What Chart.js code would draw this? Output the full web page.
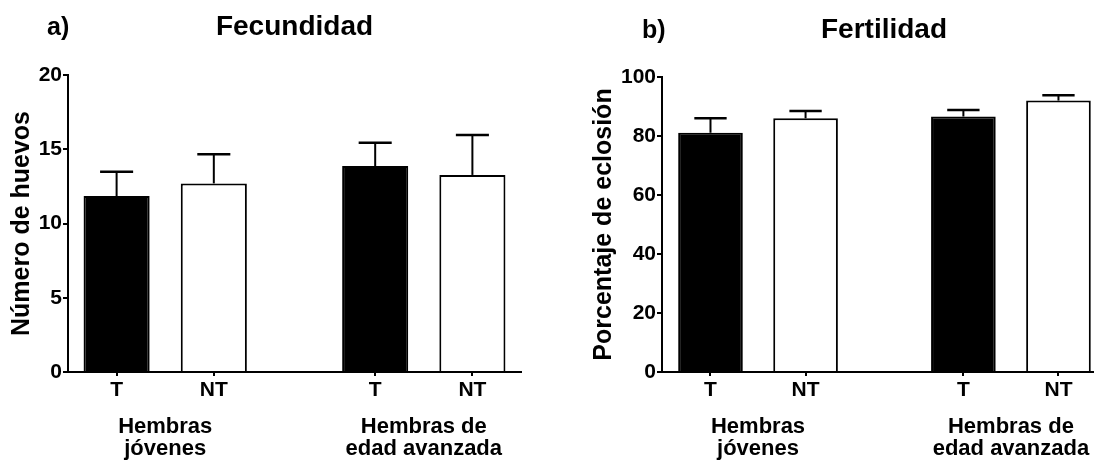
<!DOCTYPE html>
<html>
<head>
<meta charset="utf-8">
<script src="https://cdn.jsdelivr.net/npm/chart.js@4.4.1/dist/chart.umd.min.js"></script>
<style>
  html, body { margin: 0; padding: 0; background: #fff; overflow: hidden; }
  body { width: 1094px; height: 461px; position: relative; }
  #wrapA { position: absolute; left: 0; top: 0; width: 547px; height: 461px; }
  #wrapB { position: absolute; left: 547px; top: 0; width: 560px; height: 461px; }
</style>
</head>
<body>
<div id="wrapA"><canvas id="chartA" width="547" height="461"></canvas></div>
<div id="wrapB"><canvas id="chartB" width="560" height="461"></canvas></div>
<script>
  // ---------- data ----------
  const xPositions = [0, 1, 2.66, 3.66];
  const tickLabels = ["T", "NT", "T", "NT"];
  const barColors = ["#000000", "#ffffff", "#000000", "#ffffff"];
  const groupCenters = [0.5, 3.16];
  const groupLabels = [["Hembras", "jóvenes"], ["Hembras de", "edad avanzada"]];

  // a) Fecundidad
  const fecundidadMean = [11.85, 12.7, 13.87, 13.27];
  const fecundidadErr = [1.64, 1.96, 1.57, 2.69];
  const fecundidadTicks = [0, 5, 10, 15, 20];

  // b) Fertilidad
  const fertilidadMean = [81.1, 86.0, 86.6, 92.0];
  const fertilidadErr = [4.9, 2.5, 2.2, 1.8];
  const fertilidadTicks = [0, 20, 40, 60, 80, 100];

  const FONT = "'Liberation Sans', Arial, sans-serif";

  // error bars (upper only, mean + SEM) drawn through the scales
  const errorBars = {
    id: "errorBars",
    afterDatasetsDraw(chart, args, opts) {
      const { ctx } = chart;
      const x = chart.scales.x, y = chart.scales.y;
      const meta = chart.getDatasetMeta(0);
      const ds = chart.data.datasets[0];
      ctx.save();
      ctx.strokeStyle = "#000";
      ds.data.forEach((p, i) => {
        const px = x.getPixelForValue(p.x);
        const yBar = y.getPixelForValue(p.y);
        const yTop = y.getPixelForValue(p.y + opts.err[i]);
        const half = meta.data[i].width * 0.25;
        ctx.lineWidth = 2;
        ctx.beginPath();
        ctx.moveTo(px, yBar);
        ctx.lineTo(px, yTop);
        ctx.stroke();
        ctx.lineWidth = 2.5;
        ctx.beginPath();
        ctx.moveTo(px - half, yTop);
        ctx.lineTo(px + half, yTop);
        ctx.stroke();
      });
      ctx.restore();
    },
  };

  // panel letter, title and group captions
  const captions = {
    id: "captions",
    afterDraw(chart, args, opts) {
      const { ctx, chartArea } = chart;
      const x = chart.scales.x;
      ctx.save();
      ctx.fillStyle = "#000";
      ctx.textBaseline = "alphabetic";
      ctx.font = "bold 25px " + FONT;
      ctx.textAlign = "left";
      ctx.fillText(opts.letter, opts.letterX, opts.titleY);
      ctx.font = "bold 28px " + FONT;
      ctx.textAlign = "center";
      ctx.fillText(opts.title, (chartArea.left + chartArea.right) / 2, opts.titleY);
      ctx.font = "bold 22px " + FONT;
      groupCenters.forEach((g, i) => {
        const gx = x.getPixelForValue(g);
        groupLabels[i].forEach((line, j) => {
          ctx.fillText(line, gx, chartArea.bottom + 61 + j * 22);
        });
      });
      ctx.restore();
    },
  };

  function makeChart(id, cfg) {
    const points = xPositions.map((v, i) => ({ x: v, y: cfg.mean[i] }));
    return new Chart(document.getElementById(id), {
      type: "bar",
      data: {
        datasets: [
          {
            data: points,
            backgroundColor: barColors,
            borderColor: "#000",
            borderWidth: 2,
            barPercentage: 0.68,
            categoryPercentage: 1,
          },
        ],
      },
      options: {
        responsive: false,
        animation: false,
        layout: { padding: cfg.padding },
        plugins: {
          legend: { display: false },
          tooltip: { enabled: false },
          errorBars: { err: cfg.err },
          captions: { letter: cfg.letter, letterX: cfg.letterX, title: cfg.title, titleY: cfg.titleY },
        },
        scales: {
          x: {
            type: "linear",
            min: cfg.xMin,
            max: cfg.xMax,
            offset: false,
            afterBuildTicks: (s) => { s.ticks = xPositions.map((v) => ({ value: v })); },
            afterFit: (s) => { s.height = 89; },
            ticks: {
              autoSkip: false,
              maxRotation: 0,
              color: "#000",
              padding: 2,
              font: { family: FONT, size: 21, weight: "bold" },
              callback: (v, i) => tickLabels[i],
            },
            grid: { offset: false, drawOnChartArea: false, drawTicks: true, tickLength: 4, color: "#000", lineWidth: 2 },
            border: { display: true, color: "#000", width: 2 },
          },
          y: {
            min: 0,
            max: cfg.yTicks[cfg.yTicks.length - 1],
            afterBuildTicks: (s) => { s.ticks = cfg.yTicks.map((v) => ({ value: v })); },
            afterFit: (s) => { s.width = cfg.yWidth; },
            ticks: {
              color: "#000",
              padding: 1,
              font: { family: FONT, size: 21, weight: "bold" },
            },
            grid: { drawOnChartArea: false, drawTicks: true, tickLength: 5, color: "#000", lineWidth: 2 },
            border: { display: true, color: "#000", width: 2 },
            title: {
              display: true,
              text: cfg.yTitle,
              color: "#000",
              padding: { top: cfg.yTitlePad, bottom: 0 },
              font: { family: FONT, size: 25, weight: "bold" },
            },
          },
        },
      },
      plugins: [errorBars, captions],
    });
  }

  makeChart("chartA", {
    mean: fecundidadMean,
    err: fecundidadErr,
    yTicks: fecundidadTicks,
    yTitle: "Número de huevos",
    title: "Fecundidad",
    letter: "a)",
    letterX: 47,
    titleY: 35,
    xMin: -0.5,
    xMax: 4.16,
    yWidth: 68,
    yTitlePad: 7,
    padding: { left: 0, top: 75, right: 26, bottom: 0 },
  });

  makeChart("chartB", {
    mean: fertilidadMean,
    err: fertilidadErr,
    yTicks: fertilidadTicks,
    yTitle: "Porcentaje de eclosión",
    title: "Fertilidad",
    letter: "b)",
    letterX: 95,
    titleY: 38,
    xMin: -0.51,
    xMax: 4.16,
    yWidth: 115,
    yTitlePad: 42,
    padding: { left: 0, top: 77, right: 1, bottom: 0 },
  });
</script>
</body>
</html>
